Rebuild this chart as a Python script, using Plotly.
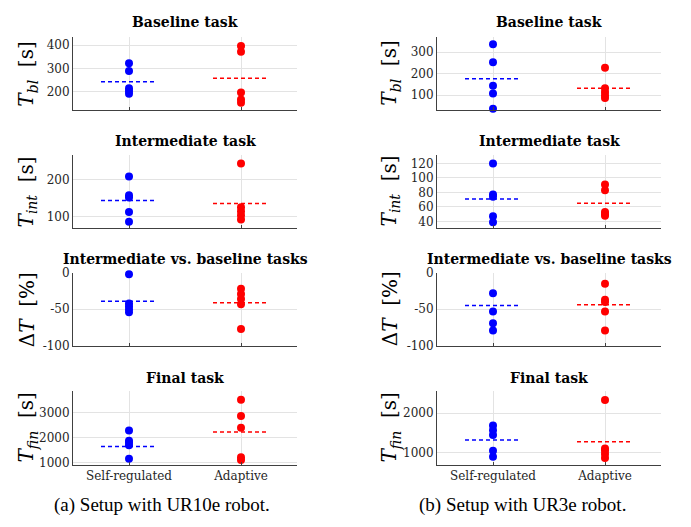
import plotly.graph_objects as go

W, H = 691, 527

categories = ["Self-regulated", "Adaptive"]
panel_titles = ["Baseline task", "Intermediate task",
                "Intermediate vs. baseline tasks", "Final task"]
captions = ["(a) Setup with UR10e robot.", "(b) Setup with UR3e robot."]

# ---- UR10e (left column) ----
ur10_bl_self = [322, 289, 214, 202, 190]
ur10_bl_adap = [397, 372, 196, 165, 151]
ur10_bl_mean = [242, 257]
ur10_int_self = [209, 158, 152, 113, 87]
ur10_int_adap = [244, 126, 115, 104, 93]
ur10_int_mean = [144, 136]
ur10_dt_self = [-2, -42, -46, -50, -54]
ur10_dt_adap = [-22, -29, -36, -43, -77]
ur10_dt_mean = [-39, -41]
ur10_fin_self = [2286, 1880, 1800, 1700, 1160]
ur10_fin_adap = [3506, 2857, 2390, 1221, 1117]
ur10_fin_mean = [1650, 2221]

# ---- UR3e (right column) ----
ur3_bl_self = [336, 253, 144, 108, 38]
ur3_bl_adap = [228, 133, 115, 100, 88]
ur3_bl_mean = [177, 132]
ur3_int_self = [120, 77, 74, 47, 39]
ur3_int_adap = [91, 83, 53, 50, 48]
ur3_int_mean = [71, 65]
ur3_dt_self = [-28, -53, -69, -79]
ur3_dt_adap = [-15, -37, -40, -53, -79]
ur3_dt_mean = [-45, -44]
ur3_fin_self = [1685, 1560, 1440, 1040, 893]
ur3_fin_adap = [2330, 1100, 1050, 960, 860]
ur3_fin_mean = [1313, 1273]

# y-axis ticks and ranges
ticks_left = [[200, 300, 400], [100, 200], [-100, -50, 0], [1000, 2000, 3000]]
ticktext_left = [["200", "300", "400"], ["100", "200"], ["-100", "-50", "0"],
                 ["1000", "2000", "3000"]]
ticks_right = [[100, 200, 300], [40, 60, 80, 100, 120], [-100, -50, 0], [1000, 2000]]
ticktext_right = [["100", "200", "300"], ["40", "60", "80", "100", "120"],
                  ["-100", "-50", "0"], ["1000", "2000"]]
ranges_left = [[119, 435], [70, 267], [-100, 0], [935, 3870]]
ranges_right = [[31, 369], [31, 131.6], [-100, 0], [694, 2570]]

ylabels = ["<i>T</i><sub><i>bl</i></sub>  [s]",
           "<i>T</i><sub><i>int</i></sub>  [s]",
           "Δ<i>T</i>  [%]",
           "<i>T</i><sub><i>fin</i></sub>  [s]"]

left_data = [(ur10_bl_self, ur10_bl_adap, ur10_bl_mean),
             (ur10_int_self, ur10_int_adap, ur10_int_mean),
             (ur10_dt_self, ur10_dt_adap, ur10_dt_mean),
             (ur10_fin_self, ur10_fin_adap, ur10_fin_mean)]
right_data = [(ur3_bl_self, ur3_bl_adap, ur3_bl_mean),
              (ur3_int_self, ur3_int_adap, ur3_int_mean),
              (ur3_dt_self, ur3_dt_adap, ur3_dt_mean),
              (ur3_fin_self, ur3_fin_adap, ur3_fin_mean)]

# layout geometry (pixels)
col_px = [(73, 297), (437, 661)]
row_px = [(31, 106), (152, 227), (273, 348), (394, 470)]
title_py = [15.7, 138, 259, 381]
ylab_px = [27, 390]
caption_py = 512

BLUE = "#0000ff"
RED = "#ff0000"
SERIF = "DejaVu Serif"
TICKCOL = "#262626"

fig = go.Figure()
layout = dict(
    width=W, height=H, margin=dict(l=0, r=0, t=0, b=0),
    paper_bgcolor="white", plot_bgcolor="white", showlegend=False,
    font=dict(family=SERIF, color=TICKCOL),
)
annotations = []

idx = 0
for c in range(2):
    data = left_data if c == 0 else right_data
    ticks = ticks_left if c == 0 else ticks_right
    ttext = ticktext_left if c == 0 else ticktext_right
    ranges = ranges_left if c == 0 else ranges_right
    x0, x1 = col_px[c]
    for r in range(4):
        idx += 1
        xa = "x" if idx == 1 else f"x{idx}"
        ya = "y" if idx == 1 else f"y{idx}"
        xkey = "xaxis" if idx == 1 else f"xaxis{idx}"
        ykey = "yaxis" if idx == 1 else f"yaxis{idx}"
        top, bot = row_px[r]
        self_v, adap_v, means = data[r]
        layout[xkey] = dict(
            domain=[x0 / W, x1 / W], anchor=ya, range=[0.5, 2.5],
            tickvals=[1, 2], ticktext=categories,
            showticklabels=(r == 3),
            tickfont=dict(family=SERIF, size=12, color=TICKCOL),
            showgrid=True, gridcolor="#e3e3e3", gridwidth=1,
            showline=True, linecolor="#404040", linewidth=1,
            ticks="inside", ticklen=3, tickcolor="#404040",
            zeroline=False, fixedrange=True,
        )
        layout[ykey] = dict(
            domain=[1 - bot / H, 1 - top / H], anchor=xa, range=ranges[r],
            tickvals=ticks[r], ticktext=ttext[r],
            tickfont=dict(family=SERIF, size=12, color=TICKCOL),
            showgrid=True, gridcolor="#e3e3e3", gridwidth=1,
            showline=True, linecolor="#404040", linewidth=1,
            ticks="", zeroline=False, fixedrange=True,
        )
        # points
        fig.add_trace(go.Scatter(
            x=[1] * len(self_v), y=self_v, mode="markers", xaxis=xa, yaxis=ya,
            marker=dict(color=BLUE, size=8, line=dict(width=0)), cliponaxis=False))
        fig.add_trace(go.Scatter(
            x=[2] * len(adap_v), y=adap_v, mode="markers", xaxis=xa, yaxis=ya,
            marker=dict(color=RED, size=8, line=dict(width=0)), cliponaxis=False))
        # mean lines
        for k, col in enumerate([BLUE, RED]):
            fig.add_trace(go.Scatter(
                x=[k + 1 - 0.25, k + 1 + 0.25], y=[means[k], means[k]],
                mode="lines", xaxis=xa, yaxis=ya,
                line=dict(color=col, width=1.5, dash="4px,3px")))
        # title
        annotations.append(dict(
            text=f"<b>{panel_titles[r]}</b>", xref="paper", yref="paper",
            x=(x0 + x1) / 2 / W, y=1 - title_py[r] / H,
            xanchor="center", yanchor="middle", showarrow=False,
            font=dict(family=SERIF, size=14, color="black")))
        # y label
        annotations.append(dict(
            text=ylabels[r], xref="paper", yref="paper",
            x=ylab_px[c] / W, y=1 - (top + bot) / 2 / H,
            xanchor="center", yanchor="middle", textangle=-90, showarrow=False,
            font=dict(family=SERIF, size=20, color="black")))
    annotations.append(dict(
        text=captions[c], xref="paper", yref="paper",
        x=((162, 522)[c]) / W, y=1 - caption_py / H,
        xanchor="center", yanchor="middle", showarrow=False,
        font=dict(family="Liberation Serif", size=19, color="black")))

layout["annotations"] = annotations
fig.update_layout(**layout)
fig.write_html("out.html", config={"displayModeBar": False},
               post_script="document.body.style.margin='0';document.body.style.overflow='hidden';")
